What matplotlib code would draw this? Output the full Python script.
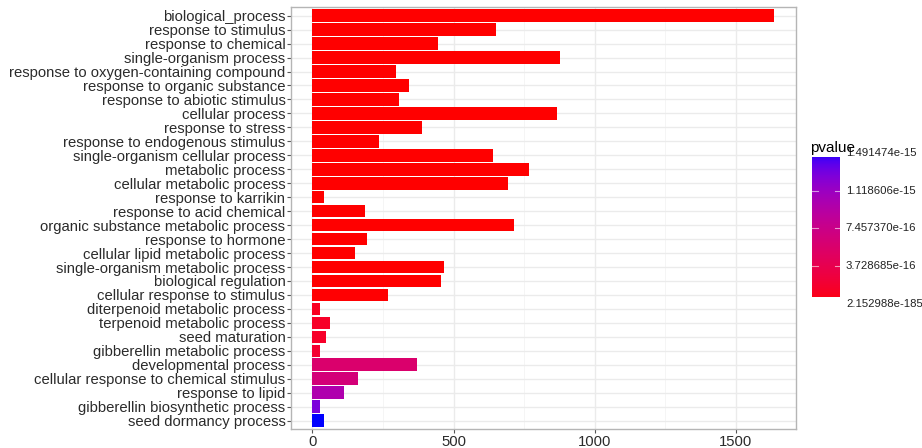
import numpy as np
import matplotlib
matplotlib.use("Agg")
import matplotlib.pyplot as plt
from matplotlib.colors import ListedColormap, Normalize

# GO terms, top to bottom
terms = [
    "biological_process", "response to stimulus", "response to chemical",
    "single-organism process", "response to oxygen-containing compound",
    "response to organic substance", "response to abiotic stimulus",
    "cellular process", "response to stress", "response to endogenous stimulus",
    "single-organism cellular process", "metabolic process",
    "cellular metabolic process", "response to karrikin",
    "response to acid chemical", "organic substance metabolic process",
    "response to hormone", "cellular lipid metabolic process",
    "single-organism metabolic process", "biological regulation",
    "cellular response to stimulus", "diterpenoid metabolic process",
    "terpenoid metabolic process", "seed maturation",
    "gibberellin metabolic process", "developmental process",
    "cellular response to chemical stimulus", "response to lipid",
    "gibberellin biosynthetic process", "seed dormancy process",
]
counts = [1634, 650, 444, 878, 297, 341, 307, 865, 388, 234,
          641, 766, 694, 40, 187, 715, 195, 152, 465, 457,
          268, 27, 62, 48, 27, 371, 161, 113, 27, 40]
pvalues = [2.152988e-185, 1e-120, 1e-90, 1e-80, 1e-60, 1e-55, 1e-50, 1e-45,
           1e-40, 1e-35, 1e-32, 1e-30, 1e-28, 1e-26, 1e-24, 1e-22, 1e-21,
           1e-20, 1e-19, 1e-18, 1e-17,
           1.0e-16, 1.4e-16, 1.5e-16, 1.9e-16, 5.6e-16, 6.4e-16, 9.8e-16,
           1.27e-15, 1.491474e-15]
cbar_breaks = [2.152988e-185, 3.728685e-16, 7.457370e-16, 1.118606e-15, 1.491474e-15]
cbar_labels = ["2.152988e-185", "3.728685e-16", "7.457370e-16", "1.118606e-15", "1.491474e-15"]

# red -> blue gradient interpolated in CIELAB (like ggplot's scale_fill_gradient)
M = np.array([[0.4124, 0.3576, 0.1805], [0.2126, 0.7152, 0.0722], [0.0193, 0.1192, 0.9505]])
WHITE = np.array([0.95047, 1.0, 1.08883])


def to_lab(rgb):
    c = np.asarray(rgb, float)
    lin = np.where(c <= 0.04045, c / 12.92, ((c + 0.055) / 1.055) ** 2.4)
    xyz = M @ lin / WHITE
    d = 6 / 29
    f = np.where(xyz > d ** 3, np.cbrt(xyz), xyz / (3 * d * d) + 4 / 29)
    return np.array([116 * f[1] - 16, 500 * (f[0] - f[1]), 200 * (f[1] - f[2])])


def from_lab(lab):
    L, a, b = lab
    fy = (L + 16) / 116
    f = np.array([fy + a / 500, fy, fy - b / 200])
    d = 6 / 29
    xyz = np.where(f > d, f ** 3, 3 * d * d * (f - 4 / 29)) * WHITE
    lin = np.linalg.solve(M, xyz)
    lin = np.clip(lin, 0, 1)
    c = np.where(lin <= 0.0031308, 12.92 * lin, 1.055 * lin ** (1 / 2.4) - 0.055)
    return np.clip(c, 0, 1)


lab_lo, lab_hi = to_lab([1, 0, 0]), to_lab([0, 0, 1])
cmap = ListedColormap([from_lab(lab_lo + t * (lab_hi - lab_lo)) for t in np.linspace(0, 1, 256)])
norm = Normalize(vmin=min(pvalues), vmax=max(pvalues))

fig = plt.figure(figsize=(9.22, 4.48), dpi=100)
ax = fig.add_axes([291 / 922, 1 - 429 / 448, 505 / 922, (429 - 7.3) / 448])

y = np.arange(len(terms))
ax.barh(y, counts, height=0.9, color=cmap(norm(pvalues)), zorder=3)

ax.set_ylim(len(terms) - 0.4, -0.6)
ax.set_xlim(-76, 1713)
ax.set_yticks(y)
ax.set_yticklabels(terms)
ax.set_xticks([0, 500, 1000, 1500])
ax.set_xticks([250, 750, 1250], minor=True)

ax.grid(True, which="major", color="#EBEBEB", linewidth=1.0, zorder=0)
ax.grid(True, which="minor", axis="x", color="#F4F4F4", linewidth=0.6, zorder=0)
ax.set_axisbelow(True)
for s in ax.spines.values():
    s.set_color("#B5B5B5")
    s.set_linewidth(1.0)
ax.tick_params(axis="both", which="major", length=3, width=0.8, color="#555555",
               labelsize=10.7, labelcolor="#2b2b2b", pad=1)
ax.tick_params(axis="x", which="minor", length=0)
for lbl in ax.get_xticklabels() + ax.get_yticklabels():
    lbl.set_fontfamily("Liberation Sans")

# colour bar legend
cax = fig.add_axes([812.3 / 922, 1 - 303.7 / 448, 28 / 922, (303.7 - 152.9) / 448])
vmax = max(pvalues)
grad = np.linspace(0.046, 0.968, 200).reshape(-1, 1)
cax.imshow(grad, cmap=cmap, vmin=0, vmax=1, aspect="auto", origin="lower",
           extent=[0, 1, 0.046 * vmax, 0.968 * vmax])
cax.set_xlim(0, 1)
cax.set_ylim(0, vmax)
cax.axis("off")
for b, txt in zip(cbar_breaks, cbar_labels):
    if 0.046 * vmax < b < 0.968 * vmax:
        cax.plot([0, 0.2], [b, b], color="white", lw=0.8, alpha=0.6)
        cax.plot([0.8, 1], [b, b], color="white", lw=0.8, alpha=0.6)
    cax.text(1.2, b, txt, va="center", ha="left", fontsize=8.2, color="#222222",
             family="Liberation Sans", clip_on=False)
fig.text(810 / 922, 1 - 148 / 448, "pvalue", fontsize=11, ha="left", va="center",
         family="Liberation Sans")

plt.savefig("out.png", dpi=100)
